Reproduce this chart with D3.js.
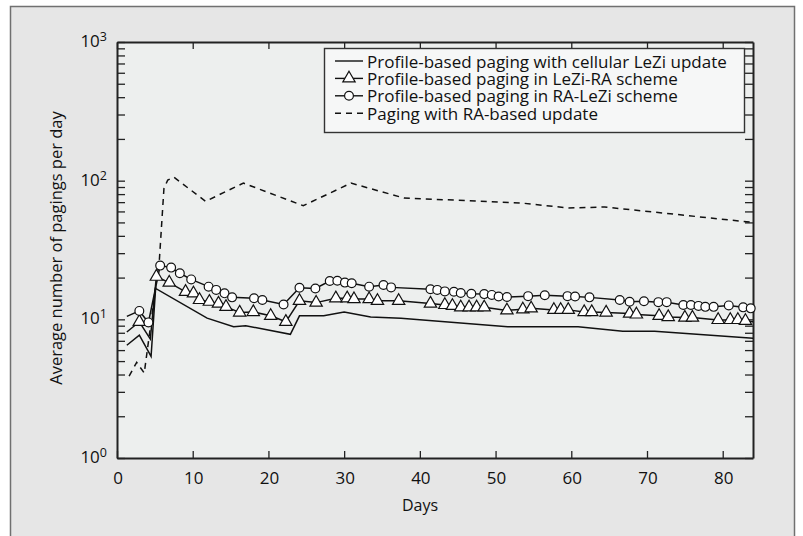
<!DOCTYPE html>
<html>
<head>
<meta charset="utf-8">
<script src="https://d3js.org/d3.v7.min.js"></script>
<style>
  body { margin: 0; background: #fff; }
  text { font-family: "Open Sans", sans-serif; fill: #111; }
</style>
</head>
<body>
<div id="chart"></div>
<script>
// series: [day, value]; days listed in *_plain get no marker
var lezi = [[1.3,6.5],[2.95,7.7],[4.5,5.4],[5.1,16.7],[11.9,10.2],[15.4,8.85],[17,9.0],[22.9,7.8],
  [24.1,10.6],[27.3,10.6],[30,11.3],[33.5,10.4],[37.5,10.2],[51.6,8.85],[60.9,8.85],[66.8,8.2],
  [71,8.2],[84,7.3]];

var leziRa = [[1.3,8.1],[2.95,9.6],[4.4,7.2],[5.2,20.3],[6.9,18.4],[9.05,15.8],[10.1,15.4],[10.9,13.8],
  [12.2,13.4],[13.4,13.0],[14.4,12.3],[16.2,11.2],[18,11.3],[20.3,10.6],[22.3,9.6],[24.1,13.6],
  [26.3,13.2],[28.9,14.2],[30.4,14.2],[31.3,14.0],[33.3,14.0],[34.4,13.6],[37.2,13.6],[41.4,13.0],
  [43.3,12.7],[44.3,12.5],[45.4,12.2],[46.5,12.2],[47.5,12.2],[48.5,12.2],[51.5,11.6],[53.6,11.8],
  [54.7,12.0],[57.7,11.7],[58.6,11.7],[59.6,11.7],[61.7,11.3],[62.7,11.3],[64.6,11.2],[67.7,11.0],
  [68.6,10.85],[71.6,10.6],[72.8,10.4],[75,10.3],[76,10.3],[79.4,9.9],[81,9.9],[82,9.9],
  [83,9.75],[84,9.6]];
var leziRa_plain = [1.3, 4.4, 84];

var raLezi = [[1.3,10.5],[2.95,11.5],[4.15,9.5],[5.7,24.4],[7.15,23.6],[8.3,21.5],[9.8,19.4],[12.1,17.2],
  [13.1,16.3],[14.2,15.4],[15.2,14.4],[18.1,14.2],[19.2,13.8],[22,12.8],[24.1,16.9],[26.2,16.7],
  [28.1,18.9],[29.1,19.0],[30.1,18.4],[31,18.2],[33.3,17.2],[35.2,17.7],[36.2,17.0],[41.4,16.5],
  [42.3,16.3],[43.3,15.9],[44.5,15.8],[45.4,15.5],[46.8,15.3],[48.5,15.2],[49.5,15.0],[50.4,14.6],
  [51.5,14.5],[54.3,14.7],[56.5,14.9],[59.5,14.7],[60.5,14.6],[62.4,14.4],[66.4,13.8],[67.7,13.4],
  [69.6,13.5],[71.5,13.3],[72.6,13.3],[74.8,12.7],[75.8,12.7],[76.8,12.5],[77.7,12.3],[78.8,12.3],
  [80.8,12.6],[82.7,12.2],[83.7,12.0]];
var raLezi_plain = [1.3];

var raUpdate = [[1.6,3.9],[2.6,4.9],[3.6,4.1],[5.6,27],[6.2,88],[6.7,101],[7.5,106],[11.7,71],
  [16.7,96],[24.6,66],[30.9,96],[37.9,75],[53.4,69],[59.6,63.5],[64.4,64.6],[84,50]];

var legendLabels = ["Profile-based paging with cellular LeZi update",
  "Profile-based paging in LeZi-RA scheme",
  "Profile-based paging in RA-LeZi scheme",
  "Paging with RA-based update"];
var xTicks = [0,10,20,30,40,50,60,70,80];
var yDecades = [1,10,100,1000];

var W = 803, H = 536;
var margin = {top: 42, right: 50, bottom: 78, left: 117},
    width = 753 - margin.left,
    height = 458 - margin.top;

var svg = d3.select("#chart").append("svg")
  .attr("width", W).attr("height", H);

// outer panel
svg.append("rect")
  .attr("x", 10.5).attr("y", 6.5).attr("width", 784).attr("height", 540)
  .style("fill", "#e6e6e6").style("stroke", "#707070").style("stroke-width", 1.5);

var g = svg.append("g")
  .attr("transform", "translate(" + margin.left + "," + margin.top + ")");

g.append("rect").attr("width", width).attr("height", height).style("fill", "#edefee");

var x = d3.scaleLinear().domain([0, 84]).range([0, width]);
var y = d3.scaleLog().domain([1, 1000]).range([height, 0]);

var minor = y.ticks();

function styleAxis(sel) {
  sel.select(".domain").style("stroke", "#222").style("stroke-width", 2);
  sel.selectAll(".tick line").style("stroke", "#222").style("stroke-width", 1.3);
  sel.selectAll(".tick text").remove();
}

g.append("g").attr("transform", "translate(0," + height + ")")
  .call(d3.axisBottom(x).tickValues(xTicks).tickSizeInner(-7).tickSizeOuter(0))
  .call(styleAxis);
g.append("g")
  .call(d3.axisTop(x).tickValues(xTicks).tickSizeInner(-7).tickSizeOuter(0))
  .call(styleAxis);
g.append("g")
  .call(d3.axisLeft(y).tickValues(minor).tickSizeInner(-8).tickSizeOuter(0))
  .call(styleAxis);
g.append("g").attr("transform", "translate(" + width + ",0)")
  .call(d3.axisRight(y).tickValues(minor).tickSizeInner(-8).tickSizeOuter(0))
  .call(styleAxis);

// tick labels
g.selectAll(".xlab").data(xTicks).enter().append("text")
  .attr("x", function(d) { return x(d) + 1; })
  .attr("y", height + 26)
  .attr("text-anchor", "middle")
  .style("font-size", "17px")
  .text(function(d) { return d; });

var yl = g.selectAll(".ylab").data(yDecades).enter().append("text")
  .attr("x", -10)
  .attr("y", function(d) { return y(d) + 5; })
  .attr("text-anchor", "end")
  .style("font-size", "17px");
yl.append("tspan").text("10");
yl.append("tspan").attr("dy", -6).style("font-size", "12.5px")
  .text(function(d) { return Math.round(Math.log10(d)); });

svg.append("text")
  .attr("x", 420).attr("y", 511)
  .attr("text-anchor", "middle")
  .style("font-size", "16px")
  .text("Days");
svg.append("text")
  .attr("transform", "translate(62,248) rotate(-90)")
  .attr("text-anchor", "middle")
  .style("font-size", "16.5px")
  .text("Average number of pagings per day");

// lines
var line = d3.line()
  .x(function(d) { return x(d[0]); })
  .y(function(d) { return y(d[1]); });

function drawLine(data, dash) {
  g.append("path").datum(data)
    .attr("d", line)
    .style("fill", "none").style("stroke", "#111").style("stroke-width", 1.5)
    .style("stroke-dasharray", dash || null);
}
drawLine(raUpdate, "6,5");
drawLine(lezi);
drawLine(leziRa);
drawLine(raLezi);

var tri = d3.symbol().type(d3.symbolTriangle).size(66);
g.selectAll(".tri").data(leziRa.filter(function(d) { return leziRa_plain.indexOf(d[0]) < 0; }))
  .enter().append("path")
  .attr("d", tri)
  .attr("transform", function(d) { return "translate(" + x(d[0]) + "," + y(d[1]) + ")"; })
  .style("fill", "#fff").style("stroke", "#111").style("stroke-width", 1.2);

g.selectAll(".circ").data(raLezi.filter(function(d) { return raLezi_plain.indexOf(d[0]) < 0; }))
  .enter().append("circle")
  .attr("cx", function(d) { return x(d[0]); })
  .attr("cy", function(d) { return y(d[1]); })
  .attr("r", 4.4)
  .style("fill", "#fff").style("stroke", "#111").style("stroke-width", 1.2);

// legend
var lg = svg.append("g");
lg.append("rect")
  .attr("x", 324.5).attr("y", 48.5).attr("width", 420).attr("height", 84)
  .style("fill", "#f6f7f7").style("stroke", "#333").style("stroke-width", 1.4);

legendLabels.forEach(function(label, i) {
  var ly = 61 + i * 17.4;
  lg.append("line")
    .attr("x1", 335).attr("x2", 363).attr("y1", ly).attr("y2", ly)
    .style("stroke", "#111").style("stroke-width", 1.4)
    .style("stroke-dasharray", i == 3 ? "6,5" : null);
  if (i == 1) {
    lg.append("path").attr("d", tri)
      .attr("transform", "translate(349," + ly + ")")
      .style("fill", "#fff").style("stroke", "#111").style("stroke-width", 1.2);
  }
  if (i == 2) {
    lg.append("circle").attr("cx", 349).attr("cy", ly).attr("r", 4.4)
      .style("fill", "#fff").style("stroke", "#111").style("stroke-width", 1.2);
  }
  lg.append("text")
    .attr("x", 367).attr("y", ly + 6.5)
    .style("font-size", "17px")
    .text(label);
});
</script>
</body>
</html>
